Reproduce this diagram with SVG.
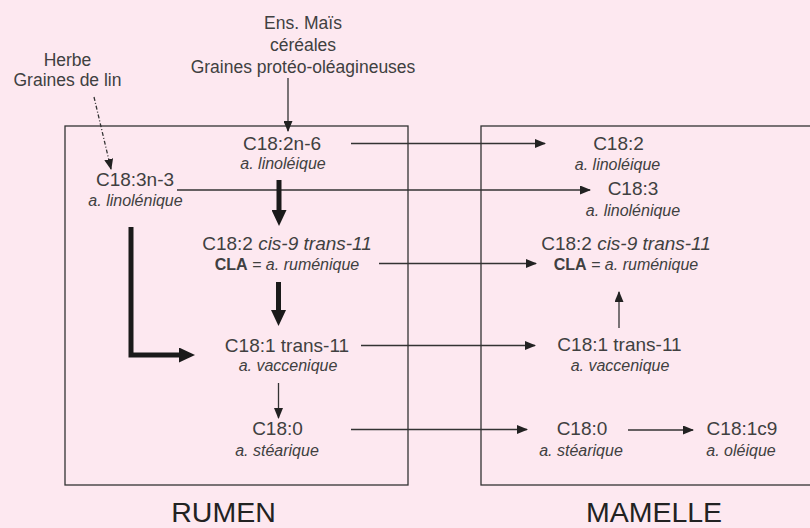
<svg xmlns="http://www.w3.org/2000/svg" width="810" height="528" viewBox="0 0 810 528">
<defs>
<style>
text{font-family:"Liberation Sans",Arial,sans-serif;fill:#404040;text-anchor:middle}
.src{font-size:17.5px}
.m{font-size:19px}
.s{font-size:16px;font-style:italic}
.b{font-weight:bold;font-style:normal}
.big{font-size:28.5px;fill:#222}
.box{fill:none;stroke:#333;stroke-width:1.3}
.thin{fill:none;stroke:#333;stroke-width:1.3}
.thick{fill:none;stroke:#1a1a1a;stroke-width:5}
</style>
<marker id="ah" markerUnits="userSpaceOnUse" markerWidth="11" markerHeight="9" refX="10" refY="4.5" orient="auto">
<path d="M0,0 L11,4.5 L0,9 z" fill="#222"/>
</marker>
<marker id="ahT" markerUnits="userSpaceOnUse" markerWidth="16" markerHeight="15" refX="3" refY="7.5" orient="auto">
<path d="M0,0 L16,7.5 L0,15 z" fill="#1a1a1a"/>
</marker>
</defs>
<rect width="810" height="528" fill="#fde8f0"/>

<g id="rumen">
<rect class="box" x="65" y="126" width="343" height="359"/>
<text class="big" x="223.5" y="522">RUMEN</text>
</g>
<g id="mamelle">
<rect class="box" x="481" y="126" width="345" height="359"/>
<text class="big" x="654" y="522">MAMELLE</text>
</g>

<g id="src-herbe">
<text class="src" x="67.5" y="66">Herbe</text>
<text class="src" x="67.5" y="86">Graines de lin</text>
</g>
<g id="src-mais">
<text class="src" x="303" y="29">Ens. Maïs</text>
<text class="src" x="303" y="50.5">céréales</text>
<text class="src" x="303" y="72.5">Graines protéo-oléagineuses</text>
</g>

<g id="r-c182n6">
<text class="m" x="282" y="149.5">C18:2n-6</text>
<text class="s" x="283" y="169">a. linoléique</text>
</g>
<g id="r-c183n3">
<text class="m" x="135" y="185.5">C18:3n-3</text>
<text class="s" x="135.5" y="205.5">a. linolénique</text>
</g>
<g id="r-cla">
<text class="m" x="287" y="249.5">C18:2 <tspan font-style="italic">cis-9 trans-11</tspan></text>
<text class="s" x="287" y="269.5"><tspan class="b">CLA</tspan> = a. ruménique</text>
</g>
<g id="r-c181">
<text class="m" x="287" y="351.5">C18:1 trans-11</text>
<text class="s" x="288" y="371">a. vaccenique</text>
</g>
<g id="r-c180">
<text class="m" x="277.5" y="435">C18:0</text>
<text class="s" x="277" y="456">a. stéarique</text>
</g>

<g id="m-c182">
<text class="m" x="618.5" y="149.5">C18:2</text>
<text class="s" x="617.5" y="169.5">a. linoléique</text>
</g>
<g id="m-c183">
<text class="m" x="633" y="195">C18:3</text>
<text class="s" x="633" y="215.5">a. linolénique</text>
</g>
<g id="m-cla">
<text class="m" x="626" y="249.5">C18:2 <tspan font-style="italic">cis-9 trans-11</tspan></text>
<text class="s" x="626" y="269.5"><tspan class="b">CLA</tspan> = a. ruménique</text>
</g>
<g id="m-c181">
<text class="m" x="619.5" y="351">C18:1 trans-11</text>
<text class="s" x="620" y="370.5">a. vaccenique</text>
</g>
<g id="m-c180">
<text class="m" x="582" y="435">C18:0</text>
<text class="s" x="581" y="456">a. stéarique</text>
</g>
<g id="m-c181c9">
<text class="m" x="742" y="435">C18:1c9</text>
<text class="s" x="741" y="456">a. oléique</text>
</g>

<g id="connectors">
<path class="thin" d="M94,97 L111,169" stroke-dasharray="4,2,1,2" marker-end="url(#ah)"/>
<path class="thin" d="M288,78 L288,131" marker-end="url(#ah)"/>
<path class="thin" d="M351,143.5 L545,143.5" marker-end="url(#ah)"/>
<path class="thin" d="M177,190 L590,190" marker-end="url(#ah)"/>
<path class="thin" d="M379,263.5 L536,263.5" marker-end="url(#ah)"/>
<path class="thin" d="M361,345.5 L535,345.5" marker-end="url(#ah)"/>
<path class="thin" d="M351,429.5 L527,429.5" marker-end="url(#ah)"/>
<path class="thin" d="M278.5,383 L278.5,418" marker-end="url(#ah)"/>
<path class="thin" d="M619,328 L619,292" marker-end="url(#ah)"/>
<path class="thin" d="M628,430 L693,430" marker-end="url(#ah)"/>
<path class="thick" d="M279,180 L279,213" marker-end="url(#ahT)"/>
<path class="thick" d="M278.5,282 L278.5,313" marker-end="url(#ahT)"/>
<path class="thick" d="M131,227 L131,355 L182,355" stroke-linejoin="miter" marker-end="url(#ahT)"/>
</g>
</svg>
